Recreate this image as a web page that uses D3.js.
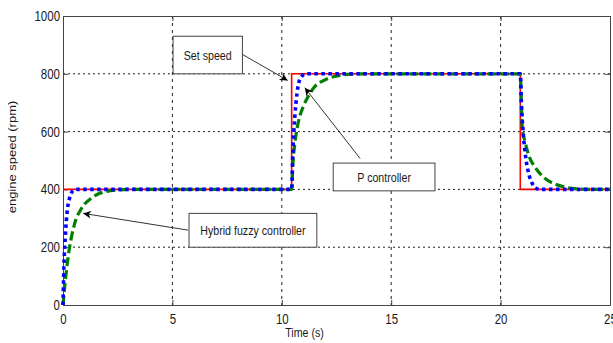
<!DOCTYPE html>
<html><head><meta charset="utf-8">
<script src="https://cdn.jsdelivr.net/npm/d3@7"></script>
<style>
body{margin:0;background:#fff;}
svg{display:block;}
text{font-family:"Liberation Sans",Arial,sans-serif;fill:#1a1a1a;}
</style></head><body>
<svg id="c" width="613" height="343"></svg>
<script>
// ---- data ----
const xTicks = [0, 5, 10, 15, 20, 25];
const yTicks = [0, 200, 400, 600, 800, 1000];
const xLabel = "Time (s)";
const yLabel = "engine speed (rpm)";

// Set speed (red, solid)
const setSpeed = [[0,400],[10.45,400],[10.45,800],[20.9,800],[20.9,400],[25,400]];

// P controller (green, dashed)
const pController = [[0,0],[0.1,80],[0.2,145],[0.3,200],[0.4,240],[0.5,272],[0.6,298],[0.8,328],[1.0,350],[1.3,370],[1.6,384],[2.0,393],[2.5,398],[3,400],
  [10.45,400],[10.5,480],[10.6,560],[10.7,612],[10.85,660],[11.0,690],[11.25,728],[11.5,755],[12,780],[12.5,792],[13,798],[14,800],
  [20.9,800],[20.95,700],[21.0,605],[21.1,570],[21.3,515],[21.6,474],[22.0,440],[22.5,418],[23,407],[23.5,402],[24,400],[25,400]];

// Hybrid fuzzy controller (blue, dotted)
const hybridFuzzy = [[0,0],[0.03,100],[0.06,170],[0.1,230],[0.15,290],[0.2,330],[0.3,370],[0.4,390],[0.5,398],[0.7,400],
  [10.45,400],[10.5,520],[10.55,600],[10.65,700],[10.75,760],[10.9,790],[11.1,800],
  [20.9,800],[20.95,700],[21.05,580],[21.15,510],[21.3,450],[21.45,420],[21.6,405],[21.8,400],[25,400]];

// annotations: label, box [t0, v0, t1, v1] in data units, arrow from [t,v] to [t,v]
const annLabels = ["Set speed", "P controller", "Hybrid fuzzy controller"];
const annBoxes = [[5.03, 930, 8.2, 800], [12.35, 491, 17.0, 395], [5.76, 317, 11.6, 200]];
const annArrowFrom = [[8.2, 867], [13.58, 507], [5.72, 259]];
const annArrowTo = [[10.27, 777], [11.05, 752], [0.92, 317]];

// ---- chart ----
const SX = 0.82; // horizontal squeeze of the reference's lettering
const svg = d3.select("#c");
const L = 63, R = 610, T = 16, B = 305;
const x = d3.scaleLinear().domain([0, 25]).range([L, R]);
const y = d3.scaleLinear().domain([0, 1000]).range([B, T]);

svg.append("defs").append("marker")
  .attr("id","ah").attr("viewBox","0 0 10 10").attr("refX",10).attr("refY",5)
  .attr("markerWidth",11).attr("markerHeight",8).attr("markerUnits","userSpaceOnUse")
  .attr("orient","auto")
  .append("path").attr("d","M0,0 L10,5 L0,10 L3,5 Z").attr("fill","#000");

// grid
const g = svg.append("g");
g.selectAll(".gy").data(yTicks.filter(d => d > 0 && d < 1000)).enter().append("line")
  .attr("x1", L).attr("x2", R).attr("y1", d => y(d)).attr("y2", d => y(d))
  .attr("stroke","#222").attr("stroke-width",1).attr("stroke-dasharray","2,3");
g.selectAll(".gx").data(xTicks.filter(d => d > 0 && d < 25)).enter().append("line")
  .attr("y1", T).attr("y2", B).attr("x1", d => x(d)).attr("x2", d => x(d))
  .attr("stroke","#222").attr("stroke-width",1).attr("stroke-dasharray","3,4");

// axes
const fmt = d3.format("d");
const ax = svg.append("g").attr("transform",`translate(0,${B})`)
  .call(d3.axisBottom(x).tickValues(xTicks).tickFormat(fmt).tickSizeInner(-5).tickSizeOuter(0).tickPadding(9));
const ay = svg.append("g").attr("transform",`translate(${L},0)`)
  .call(d3.axisLeft(y).tickValues(yTicks).tickFormat(fmt).tickSizeInner(-5).tickSizeOuter(0).tickPadding(3));
svg.append("g").attr("transform",`translate(0,${T})`)
  .call(d3.axisTop(x).tickValues(xTicks).tickSizeInner(-5).tickSizeOuter(0).tickFormat(""));
svg.append("g").attr("transform",`translate(${R},0)`)
  .call(d3.axisRight(y).tickValues(yTicks).tickSizeInner(-5).tickSizeOuter(0).tickFormat(""));
svg.selectAll(".domain").attr("stroke","#444");
svg.selectAll(".tick line").attr("stroke","#444");
svg.selectAll(".tick text").attr("font-size",14).attr("fill","#1a1a1a")
  .style("font-family",'"Liberation Sans",Arial,sans-serif');
ax.selectAll(".tick text").attr("transform", `scale(${SX},1)`);
ay.selectAll(".tick text").attr("transform", `translate(-3,0) scale(${SX},1) translate(3,0)`);

// lines
const line = d3.line().x(d => x(d[0])).y(d => y(d[1]));
const smooth = d3.line().x(d => x(d[0])).y(d => y(d[1])).curve(d3.curveMonotoneX);
svg.append("path").datum(setSpeed).attr("d", line).attr("fill","none")
  .attr("stroke","#ff0000").attr("stroke-width",1.6);
svg.append("path").datum(pController).attr("d", smooth).attr("fill","none")
  .attr("stroke","#007f00").attr("stroke-width",3.2).attr("stroke-dasharray","9,4");
svg.append("path").datum(hybridFuzzy).attr("d", smooth).attr("fill","none")
  .attr("stroke","#0000ff").attr("stroke-width",3.6).attr("stroke-dasharray","3.5,3.5");

// annotations
annLabels.forEach((lab, i) => {
  const b = annBoxes[i];
  svg.append("rect").attr("x", x(b[0])).attr("y", y(b[1]))
    .attr("width", x(b[2]) - x(b[0])).attr("height", y(b[3]) - y(b[1]))
    .attr("fill","#fff").attr("stroke","#444").attr("stroke-width",1);
  const cx = (x(b[0]) + x(b[2])) / 2, cy = (y(b[1]) + y(b[3])) / 2 + 5;
  svg.append("text").attr("transform", `translate(${cx},${cy}) scale(${SX},1)`)
    .attr("text-anchor","middle").attr("font-size",13).text(lab);
  const f = annArrowFrom[i], t = annArrowTo[i];
  svg.append("line").attr("x1", x(f[0])).attr("y1", y(f[1])).attr("x2", x(t[0])).attr("y2", y(t[1]))
    .attr("stroke","#333").attr("stroke-width",1).attr("marker-end","url(#ah)");
});

// axis labels
svg.append("text").attr("transform", `translate(${(x(0)+x(25))/2 - 32},337) scale(${SX},1)`)
  .attr("text-anchor","middle").attr("font-size",13).text(xLabel);
svg.append("text").attr("transform",`translate(16,157) rotate(-90) scale(1,${SX})`)
  .attr("text-anchor","middle").attr("font-size",13).text(yLabel);
</script>
</body></html>
